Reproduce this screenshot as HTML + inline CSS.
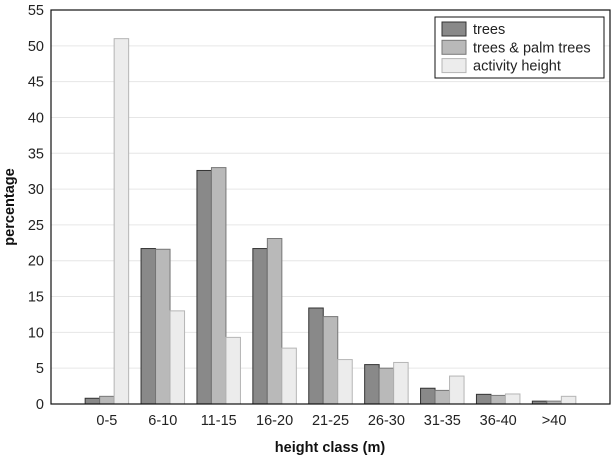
<!DOCTYPE html>
<html><head><meta charset="utf-8"><style>
body{margin:0;background:#fff;font-family:"Liberation Sans",Arial,sans-serif;}
svg text{font-family:"Liberation Sans",Arial,sans-serif;}
</style></head><body>
<svg id="chart" width="616" height="460" xmlns="http://www.w3.org/2000/svg"></svg>
<script>
const categories = ["0-5","6-10","11-15","16-20","21-25","26-30","31-35","36-40",">40"];
const trees = [0.8,21.7,32.6,21.7,13.4,5.5,2.2,1.35,0.4];
const palmTrees = [1.07,21.6,33.0,23.1,12.2,5.0,1.9,1.2,0.4];
const activity = [51.0,13.0,9.3,7.8,6.2,5.8,3.9,1.4,1.07];
const yTicks = [0,5,10,15,20,25,30,35,40,45,50,55];
const seriesNames = ["trees","trees & palm trees","activity height"];

const svg = document.getElementById('chart');
const NS = "http://www.w3.org/2000/svg";
const L=51,R=610,T=10,B=404,yMax=55;
const pitch=(R-L)/(categories.length+1);
const bw=14.5;
function y(v){return B-(v/yMax)*(B-T);}
function x(i){return L+pitch*(i+1);}
function mk(tag,attrs,parent){const e=document.createElementNS(NS,tag);for(const k in attrs)e.setAttribute(k,attrs[k]);(parent||svg).appendChild(e);return e;}

const grid=mk('g',{});


yTicks.forEach(t=>{
  if(t>0&&t<yMax){const l=mk('line',{x1:L,x2:R,y1:y(t),y2:y(t),stroke:'#e6e6e6','stroke-width':1},grid);
  
  }
  const tx=mk('text',{x:44,y:y(t)+5,'text-anchor':'end','font-size':14.5,fill:'#222'});
  tx.textContent=t;
  
  
});

const fills=['#898989','#b9b9b9','#ececec'];
const strokes=['#333','#777','#b5b5b5'];
const series=[trees,palmTrees,activity];
series.forEach((s,si)=>{
  s.forEach((v,i)=>{
    const bx=x(i)+(si-1.5)*bw;
    const r=mk('rect',{x:bx,y:y(v),width:bw,height:B-y(v),fill:fills[si],stroke:strokes[si],'stroke-width':1});
    
    
  });
});
categories.forEach((c,i)=>{
  const tx=mk('text',{x:x(i),y:425,'text-anchor':'middle','font-size':14.5,fill:'#222'});
  tx.textContent=c;
  
  
});
const frame=mk('rect',{x:L,y:T,width:R-L,height:B-T,fill:'none',stroke:'#111','stroke-width':1.2});



const xt=mk('text',{x:330,y:452,'text-anchor':'middle','font-size':14.5,'font-weight':'bold',fill:'#111'});
xt.textContent='height class (m)';


const yt=mk('text',{x:0,y:0,'text-anchor':'middle','font-size':14.5,'font-weight':'bold',fill:'#111',transform:'translate(14,207) rotate(-90)'});
yt.textContent='percentage';



const lg=mk('g',{});


const lb=mk('rect',{x:435,y:17,width:169,height:61,fill:'#fff',stroke:'#111','stroke-width':1},lg);


seriesNames.forEach((n,i)=>{
  const sw=mk('rect',{x:442,y:22+i*18.3,width:24,height:14,fill:fills[i],stroke:strokes[i]},lg);
  
  
  const t=mk('text',{x:473,y:34+i*18.3,'font-size':14.5,fill:'#222'},lg);
  t.textContent=n;
  
  
});
</script>
</body></html>
